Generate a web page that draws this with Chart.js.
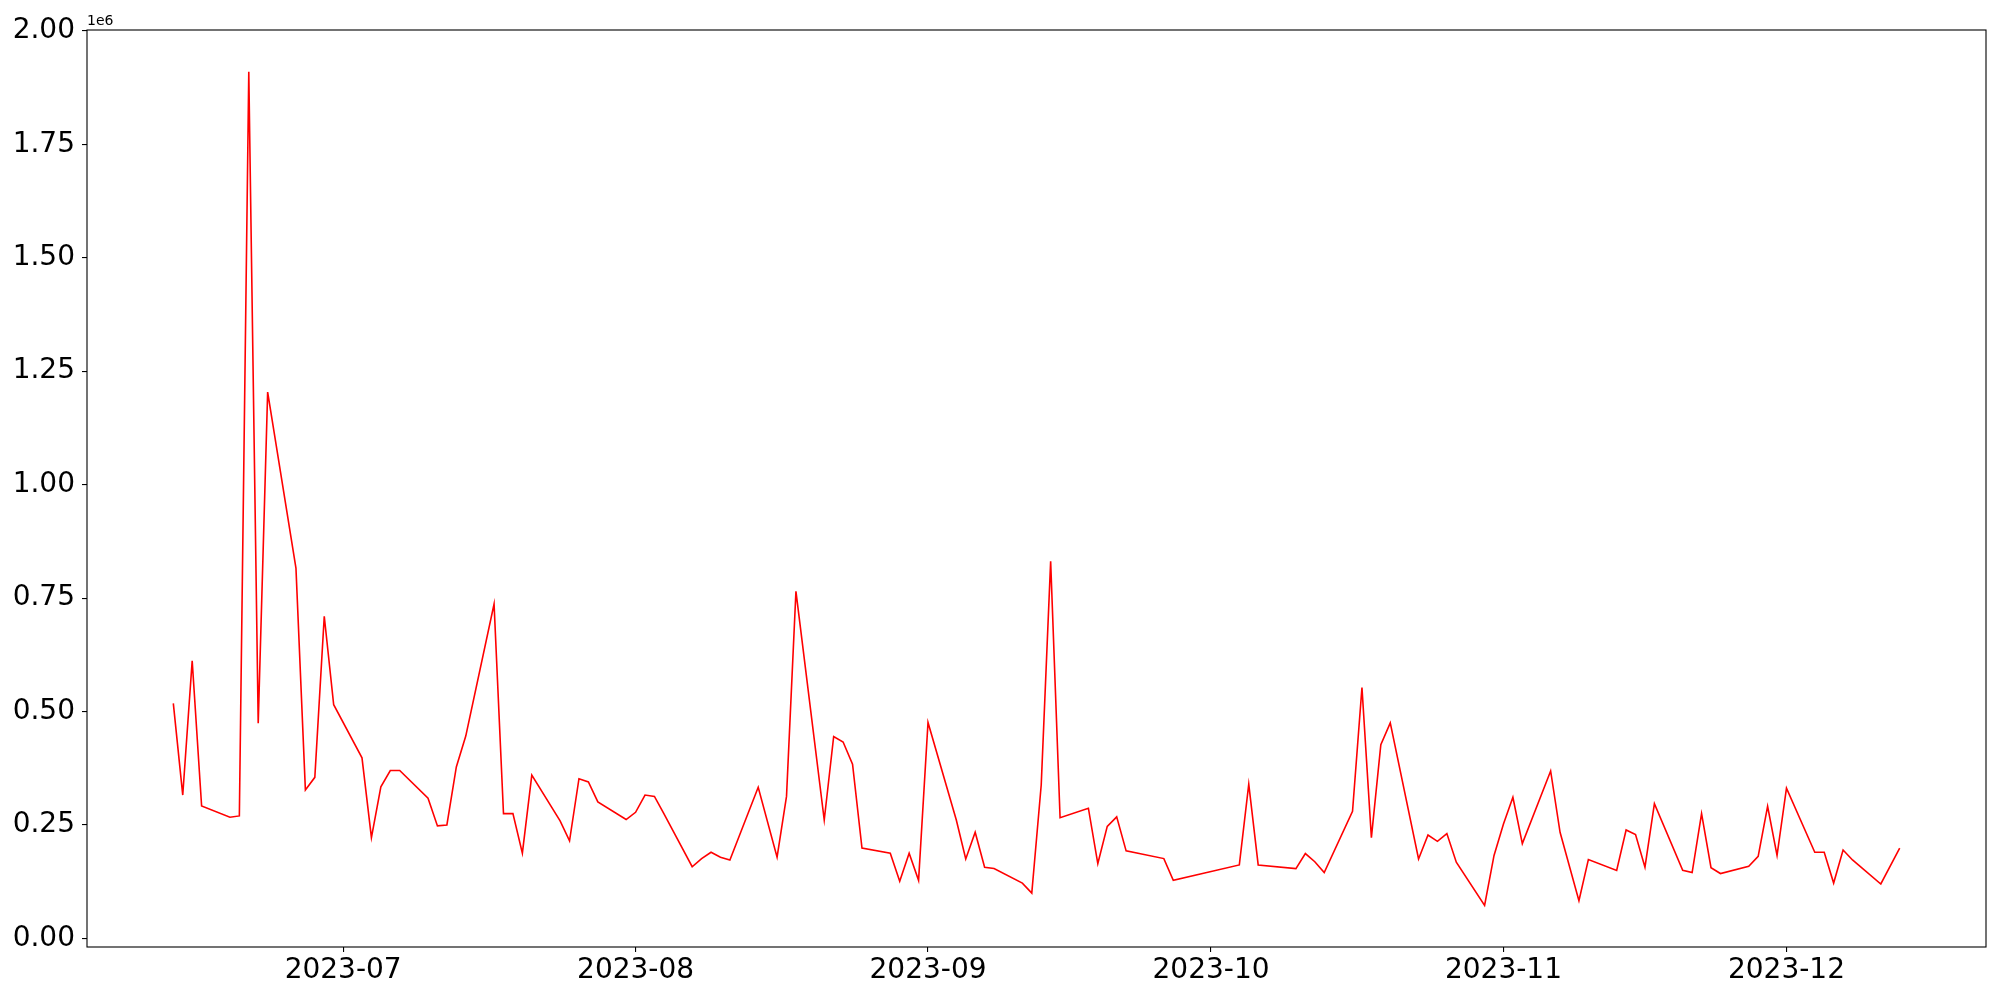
<!DOCTYPE html>
<html>
<head>
<meta charset="utf-8">
<script src="https://cdn.jsdelivr.net/npm/chart.js@4.4.0/dist/chart.umd.min.js"></script>
<style>
    body { margin: 0; background: #fff; }
</style>
</head>
<body>
<canvas id="grafica" width="2000" height="1000"></canvas>
<script>
// fechas (días hábiles) y valores
const fechas = [
    "2023-06-13", "2023-06-14", "2023-06-15", "2023-06-16", "2023-06-19", "2023-06-20", "2023-06-21", "2023-06-22", "2023-06-23",
    "2023-06-26", "2023-06-27", "2023-06-28", "2023-06-29", "2023-06-30",
    "2023-07-03", "2023-07-04", "2023-07-05", "2023-07-06", "2023-07-07",
    "2023-07-10", "2023-07-11", "2023-07-12", "2023-07-13", "2023-07-14",
    "2023-07-17", "2023-07-18", "2023-07-19", "2023-07-20", "2023-07-21",
    "2023-07-24", "2023-07-25", "2023-07-26", "2023-07-27", "2023-07-28",
    "2023-07-31", "2023-08-01", "2023-08-02", "2023-08-03", "2023-08-04",
    "2023-08-07", "2023-08-08", "2023-08-09", "2023-08-10", "2023-08-11",
    "2023-08-14", "2023-08-16", "2023-08-17", "2023-08-18",
    "2023-08-21", "2023-08-22", "2023-08-23", "2023-08-24", "2023-08-25",
    "2023-08-28", "2023-08-29", "2023-08-30", "2023-08-31", "2023-09-01",
    "2023-09-04", "2023-09-05", "2023-09-06", "2023-09-07", "2023-09-08",
    "2023-09-11", "2023-09-12", "2023-09-13", "2023-09-14", "2023-09-15",
    "2023-09-18", "2023-09-19", "2023-09-20", "2023-09-21", "2023-09-22",
    "2023-09-26", "2023-09-27",
    "2023-10-04", "2023-10-05", "2023-10-06",
    "2023-10-10", "2023-10-11", "2023-10-12", "2023-10-13",
    "2023-10-16", "2023-10-17", "2023-10-18", "2023-10-19", "2023-10-20",
    "2023-10-23", "2023-10-24", "2023-10-25", "2023-10-26", "2023-10-27",
    "2023-10-30", "2023-10-31", "2023-11-01", "2023-11-02", "2023-11-03",
    "2023-11-06", "2023-11-07", "2023-11-09", "2023-11-10",
    "2023-11-13", "2023-11-14", "2023-11-15", "2023-11-16", "2023-11-17",
    "2023-11-20", "2023-11-21", "2023-11-22", "2023-11-23", "2023-11-24",
    "2023-11-27", "2023-11-28", "2023-11-29", "2023-11-30", "2023-12-01",
    "2023-12-04", "2023-12-05", "2023-12-06", "2023-12-07", "2023-12-08",
    "2023-12-11", "2023-12-13"
];

const valores = [
    518000, 316000, 612000, 292000, 267000, 270000, 1910000, 474000, 1204000,
    816000, 327000, 355000, 710000, 515000,
    398000, 222000, 334000, 370000, 370000,
    309000, 248000, 250000, 378000, 446000,
    737000, 275000, 275000, 188000, 360000,
    259000, 215000, 352000, 345000, 301000,
    262000, 278000, 316000, 313000, 275000,
    158000, 176000, 190000, 179000, 173000,
    333000, 179000, 313000, 765000,
    261000, 445000, 433000, 384000, 199000,
    188000, 126000, 188000, 128000, 476000,
    261000, 175000, 234000, 157000, 154000,
    122000, 100000, 338000, 831000, 266000,
    287000, 165000, 247000, 268000, 193000,
    176000, 128000,
    162000, 340000, 162000,
    154000, 187000, 169000, 145000,
    280000, 553000, 222000, 427000, 475000,
    175000, 228000, 214000, 231000, 168000,
    73000, 183000, 252000, 311000, 209000,
    369000, 234000, 83000, 174000,
    150000, 239000, 229000, 157000, 297000,
    150000, 145000, 275000, 156000, 143000,
    159000, 181000, 291000, 183000, 331000,
    190000, 190000, 122000, 195000, 173000,
    120000, 199000
];

// marcas de los ejes
const mesesEje = ["2023-07", "2023-08", "2023-09", "2023-10", "2023-11", "2023-12"];
const valoresEje = [0, 250000, 500000, 750000, 1000000, 1250000, 1500000, 1750000, 2000000];

function aTiempo(texto) {
    const p = texto.split("-").map(Number);
    return Date.UTC(p[0], p[1] - 1, p[2] || 1);
}

const puntos = fechas.map((f, i) => ({ x: aTiempo(f), y: valores[i] }));

// margen de 5% como matplotlib
const xMin = Math.min(...puntos.map(p => p.x));
const xMax = Math.max(...puntos.map(p => p.x));
const yMin = Math.min(...valores);
const yMax = Math.max(...valores);
const mx = (xMax - xMin) * 0.05;
const my = (yMax - yMin) * 0.05;

const fuente = { family: "'DejaVu Sans'", size: 28 };

// marco completo y texto de escala "1e6"
const marco = {
    id: "marco",
    afterDraw(chart) {
        const a = chart.chartArea;
        const ctx = chart.ctx;
        ctx.save();
        ctx.strokeStyle = "#000";
        ctx.lineWidth = 1.1;
        ctx.strokeRect(a.left, a.top, a.right - a.left, a.bottom - a.top);
        ctx.fillStyle = "#000";
        ctx.font = "14px 'DejaVu Sans'";
        ctx.textAlign = "left";
        ctx.textBaseline = "alphabetic";
        ctx.fillText("1e6", a.left, a.top - 5);
        ctx.restore();
    }
};

new Chart(document.getElementById("grafica"), {
    type: "line",
    data: {
        datasets: [{
            data: puntos,
            borderColor: "#ff0000",
            borderWidth: 1.6,
            pointRadius: 0,
            tension: 0,
            fill: false
        }]
    },
    options: {
        responsive: false,
        animation: false,
        devicePixelRatio: 1,
        layout: { padding: { left: 0, top: 30, right: 14, bottom: 0 } },
        plugins: { legend: { display: false }, tooltip: { enabled: false } },
        scales: {
            x: {
                type: "linear",
                min: xMin - mx,
                max: xMax + mx,
                afterBuildTicks: scale => {
                    scale.ticks = mesesEje.map(m => ({ value: aTiempo(m) }));
                },
                afterFit: scale => { scale.height = 53; },
                ticks: {
                    autoSkip: false,
                    maxRotation: 0,
                    padding: 2,
                    color: "#000",
                    font: fuente,
                    callback: v => {
                        const d = new Date(v);
                        return d.getUTCFullYear() + "-" + String(d.getUTCMonth() + 1).padStart(2, "0");
                    }
                },
                grid: { display: true, drawOnChartArea: false, drawTicks: true, tickLength: 5, color: "#000", lineWidth: 1.1 },
                border: { display: false }
            },
            y: {
                type: "linear",
                min: yMin - my,
                max: yMax + my,
                afterBuildTicks: scale => {
                    scale.ticks = valoresEje.map(v => ({ value: v }));
                },
                afterFit: scale => { scale.width = 87; },
                ticks: {
                    padding: 7,
                    color: "#000",
                    font: fuente,
                    callback: v => (v / 1e6).toFixed(2)
                },
                grid: { display: true, drawOnChartArea: false, drawTicks: true, tickLength: 5, color: "#000", lineWidth: 1.1 },
                border: { display: false }
            }
        }
    },
    plugins: [marco]
});
</script>
</body>
</html>
